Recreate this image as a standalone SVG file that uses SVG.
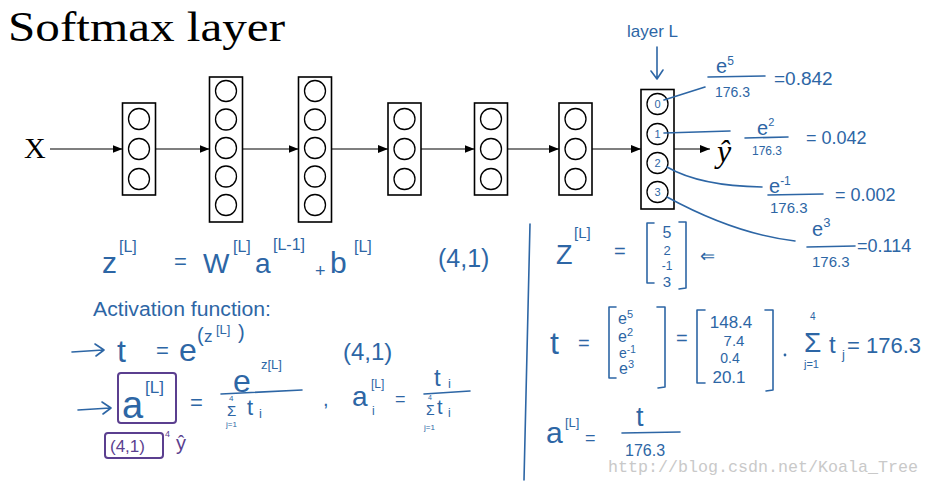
<svg xmlns="http://www.w3.org/2000/svg" width="931" height="486" viewBox="0 0 931 486">
<style>
.box{fill:none;stroke:#000;stroke-width:1.6}
.neu{fill:none;stroke:#000;stroke-width:1.3}
.arr{fill:none;stroke:#000;stroke-width:1.2;marker-end:url(#ah)}
.serif{font-family:"Liberation Serif",serif;fill:#000}
.ink{font-family:"Liberation Sans",sans-serif;fill:#2d66a5}
.inkl{fill:none;stroke:#2d66a5;stroke-width:1.6;stroke-linecap:round;stroke-linejoin:round}
.pur{font-family:"Liberation Sans",sans-serif;fill:#5b3f8f}
.purl{fill:none;stroke:#5b3f8f;stroke-width:2}
.wm{font-family:"Liberation Mono",monospace;fill:#c9c9c9}
</style>
<defs>
<marker id="ah" markerWidth="10" markerHeight="8" refX="10" refY="4" orient="auto" markerUnits="userSpaceOnUse"><path d="M0,0 L10,4 L0,8 z" fill="#000"/></marker>
</defs>
<rect width="931" height="486" fill="#fff"/>
<g id="title"><text class="serif" x="8" y="41" font-size="43" textLength="277" lengthAdjust="spacingAndGlyphs">Softmax layer</text></g>
<g id="input-x"><text class="serif" x="24" y="158" font-size="30">X</text></g>
<g id="layer1"><rect class="box" x="122.5" y="103" width="33" height="92"/><circle class="neu" cx="139" cy="119" r="10.5"/><circle class="neu" cx="139" cy="149" r="10.5"/><circle class="neu" cx="139" cy="179" r="10.5"/></g>
<g id="layer2"><rect class="box" x="209.5" y="77" width="33" height="145"/><circle class="neu" cx="226" cy="91" r="10.5"/><circle class="neu" cx="226" cy="119.5" r="10.5"/><circle class="neu" cx="226" cy="148" r="10.5"/><circle class="neu" cx="226" cy="176.5" r="10.5"/><circle class="neu" cx="226" cy="205" r="10.5"/></g>
<g id="layer3"><rect class="box" x="298.5" y="77" width="33" height="145"/><circle class="neu" cx="315" cy="91" r="10.5"/><circle class="neu" cx="315" cy="119.5" r="10.5"/><circle class="neu" cx="315" cy="148" r="10.5"/><circle class="neu" cx="315" cy="176.5" r="10.5"/><circle class="neu" cx="315" cy="205" r="10.5"/></g>
<g id="layer4"><rect class="box" x="388" y="103" width="33" height="92"/><circle class="neu" cx="404.5" cy="119" r="10.5"/><circle class="neu" cx="404.5" cy="149" r="10.5"/><circle class="neu" cx="404.5" cy="179" r="10.5"/></g>
<g id="layer5"><rect class="box" x="474.5" y="103" width="33" height="92"/><circle class="neu" cx="491" cy="119" r="10.5"/><circle class="neu" cx="491" cy="149" r="10.5"/><circle class="neu" cx="491" cy="179" r="10.5"/></g>
<g id="layer6"><rect class="box" x="559" y="103" width="33" height="92"/><circle class="neu" cx="575.5" cy="119" r="10.5"/><circle class="neu" cx="575.5" cy="149" r="10.5"/><circle class="neu" cx="575.5" cy="179" r="10.5"/></g>
<g id="layerL"><rect class="box" x="641" y="89.5" width="33" height="119.5"/>
<circle class="neu" cx="657.5" cy="104" r="10.5"/><circle class="neu" cx="657.5" cy="134" r="10.5"/><circle class="neu" cx="657.5" cy="163" r="10.5"/><circle class="neu" cx="657.5" cy="192" r="10.5"/>
<text class="ink" x="657.5" y="108" font-size="11" text-anchor="middle">0</text><text class="ink" x="657.5" y="138" font-size="11" text-anchor="middle">1</text><text class="ink" x="657.5" y="167" font-size="11" text-anchor="middle">2</text><text class="ink" x="657.5" y="196" font-size="11" text-anchor="middle">3</text></g>
<g id="output-yhat"><text class="serif" x="717" y="162" font-size="32" font-style="italic">ŷ</text></g>
<g id="connectors">
<line class="arr" x1="50" y1="149" x2="122.5" y2="149"/>
<line class="arr" x1="155.5" y1="149" x2="209.5" y2="149"/>
<line class="arr" x1="242.5" y1="149" x2="298.5" y2="149"/>
<line class="arr" x1="331.5" y1="149" x2="388" y2="149"/>
<line class="arr" x1="421" y1="149" x2="474.5" y2="149"/>
<line class="arr" x1="507.5" y1="149" x2="559" y2="149"/>
<line class="arr" x1="592" y1="149" x2="641" y2="149"/>
<line class="arr" x1="674" y1="149" x2="710" y2="149"/>
<path class="inkl" d="M657,47 L657,79 M651,71 L657,79 L663,70"/>
<path class="inkl" d="M664,100 L705,87"/>
<path class="inkl" d="M664,133 L730,131"/>
<path class="inkl" d="M667,167 Q700,186 762,187"/>
<path class="inkl" d="M667,197 Q735,234 795,241"/>
</g>
<g id="layerL-label"><text class="ink" x="627" y="37" font-size="17">layer L</text></g>
<g id="prob0"><text class="ink" x="716" y="73" font-size="20">e<tspan dy="-8" font-size="12">5</tspan></text><path class="inkl" d="M708,77 L765,76"/><text class="ink" x="715" y="97" font-size="14">176.3</text><text class="ink" x="774" y="85" font-size="19">=0.842</text></g>
<g id="prob1"><text class="ink" x="757" y="135" font-size="20">e<tspan dy="-9" font-size="11">2</tspan></text><path class="inkl" d="M745,138 L788,137"/><text class="ink" x="752" y="155" font-size="12">176.3</text><text class="ink" x="806" y="144" font-size="18">= 0.042</text></g>
<g id="prob2"><text class="ink" x="769" y="193" font-size="20">e<tspan dy="-8" font-size="12">-1</tspan></text><path class="inkl" d="M768,195 L823,194"/><text class="ink" x="770" y="213" font-size="15">176.3</text><text class="ink" x="835" y="201" font-size="18">= 0.002</text></g>
<g id="prob3"><text class="ink" x="812" y="236" font-size="20">e<tspan dy="-9" font-size="13">3</tspan></text><path class="inkl" d="M807,247 L855,246"/><text class="ink" x="812" y="267" font-size="15">176.3</text><text class="ink" x="857" y="252" font-size="18">=0.114</text></g>
<g id="eq-z">
<text class="ink" x="102" y="273" font-size="30">z</text><text class="ink" x="119" y="252" font-size="16">[L]</text>
<text class="ink" x="174" y="269" font-size="22">=</text>
<text class="ink" x="203" y="273" font-size="28">W</text><text class="ink" x="233" y="252" font-size="16">[L]</text>
<text class="ink" x="255" y="273" font-size="28">a</text><text class="ink" x="273" y="250" font-size="16">[L-1]</text>
<text class="ink" x="315" y="277" font-size="18">+</text>
<text class="ink" x="330" y="273" font-size="30">b</text><text class="ink" x="354" y="252" font-size="16">[L]</text>
<text class="ink" x="438" y="267" font-size="25">(4,1)</text>
</g>
<g id="activation-label"><text class="ink" x="93" y="316" font-size="20" textLength="178" lengthAdjust="spacingAndGlyphs">Activation function:</text></g>
<g id="eq-t">
<path class="inkl" d="M72,352 L103,350 M95,344 L104,350 L96,356"/>
<text class="ink" x="117" y="362" font-size="32">t</text>
<text class="ink" x="156" y="358" font-size="22">=</text>
<text class="ink" x="179" y="361" font-size="32">e</text>
<text class="ink" x="197" y="342" font-size="20">(</text><text class="ink" x="204" y="342" font-size="17">z</text><text class="ink" x="216" y="334" font-size="13">[L]</text><text class="ink" x="238" y="339" font-size="20">)</text>
<text class="ink" x="343" y="360" font-size="24">(4,1)</text>
</g>
<g id="eq-a">
<path class="inkl" d="M78,410 L110,408 M102,402 L111,408 L103,414"/>
<rect class="purl" x="118" y="373" width="58" height="50" rx="3"/>
<text class="ink" x="122" y="418" font-size="38">a</text><text class="ink" x="145" y="393" font-size="17">[L]</text>
<text class="ink" x="190" y="410" font-size="22">=</text>
<text class="ink" x="233" y="392" font-size="32">e</text><text class="ink" x="261" y="369" font-size="13">z[L]</text>
<path class="inkl" d="M221,394 L302,390"/>
<text class="ink" x="229" y="401" font-size="8">4</text><text class="ink" x="227" y="416" font-size="15">Σ</text><text class="ink" x="226" y="427" font-size="8">j=1</text>
<text class="ink" x="247" y="415" font-size="22">t</text><text class="ink" x="259" y="418" font-size="13">i</text>
<text class="ink" x="323" y="406" font-size="20">,</text>
<text class="ink" x="352" y="406" font-size="28">a</text><text class="ink" x="371" y="388" font-size="12">[L]</text><text class="ink" x="372" y="415" font-size="12">i</text>
<text class="ink" x="395" y="405" font-size="18">=</text>
<text class="ink" x="434" y="386" font-size="24">t</text><text class="ink" x="448" y="388" font-size="13">i</text>
<path class="inkl" d="M424,394 L470,391"/>
<text class="ink" x="428" y="400" font-size="7">4</text><text class="ink" x="426" y="415" font-size="14">Σ</text><text class="ink" x="424" y="430" font-size="8">j=1</text>
<text class="ink" x="437" y="414" font-size="20">t</text><text class="ink" x="448" y="417" font-size="12">i</text>
</g>
<g id="dims-note">
<rect class="purl" x="105" y="433" width="58" height="25" rx="3"/>
<text class="pur" x="110" y="452" font-size="17">(4,1)</text>
<text class="pur" x="165" y="437" font-size="9">4</text>
<text class="pur" x="176" y="450" font-size="20">ŷ</text>
</g>
<path class="inkl" d="M530,224 Q527,350 524,480"/>
<g id="eq-zvec">
<text class="ink" x="556" y="264" font-size="27">Z</text><text class="ink" x="574" y="238" font-size="15">[L]</text>
<text class="ink" x="614" y="258" font-size="20">=</text>
<path class="inkl" d="M654,223 L647,223 L647,283 L654,283 M679,222 L686,222 L686,288 L679,289"/>
<text class="ink" x="667" y="238" font-size="16" text-anchor="middle">5</text>
<text class="ink" x="667" y="255" font-size="13" text-anchor="middle">2</text>
<text class="ink" x="667" y="270" font-size="12" text-anchor="middle">-1</text>
<text class="ink" x="667" y="287" font-size="15" text-anchor="middle">3</text>
<text class="ink" x="700" y="262" font-size="18">⇐</text>
</g>
<g id="eq-tvec">
<text class="ink" x="550" y="354" font-size="32">t</text>
<text class="ink" x="578" y="350" font-size="20">=</text>
<path class="inkl" d="M616,307 L609,307 L609,378 L616,378 M657,307 L665,307 L665,387 L658,388"/>
<text class="ink" x="618" y="324" font-size="16">e<tspan dy="-6" font-size="11">5</tspan></text>
<text class="ink" x="618" y="342" font-size="16">e<tspan dy="-6" font-size="11">2</tspan></text>
<text class="ink" x="619" y="358" font-size="14">e<tspan dy="-5" font-size="10">-1</tspan></text>
<text class="ink" x="619" y="374" font-size="16">e<tspan dy="-6" font-size="11">3</tspan></text>
<text class="ink" x="676" y="345" font-size="20">=</text>
<path class="inkl" d="M705,310 L697,310 L697,383 L705,383 M765,310 L773,310 L773,390 L766,391"/>
<text class="ink" x="731" y="328" font-size="17" text-anchor="middle">148.4</text>
<text class="ink" x="734" y="346" font-size="15" text-anchor="middle">7.4</text>
<text class="ink" x="730" y="363" font-size="14" text-anchor="middle">0.4</text>
<text class="ink" x="729" y="383" font-size="17" text-anchor="middle">20.1</text>
<circle cx="785" cy="355" r="1.4" fill="#2d66a5"/>
<text class="ink" x="810" y="320" font-size="10">4</text>
<text class="ink" x="804" y="352" font-size="28">Σ</text>
<text class="ink" x="804" y="368" font-size="11">j=1</text>
<text class="ink" x="829" y="353" font-size="24">t</text><text class="ink" x="842" y="359" font-size="13">j</text>
<text class="ink" x="847" y="353" font-size="22">= 176.3</text>
</g>
<g id="eq-afinal">
<text class="ink" x="546" y="443" font-size="30">a</text><text class="ink" x="565" y="427" font-size="13">[L]</text>
<text class="ink" x="585" y="444" font-size="18">=</text>
<text class="ink" x="636" y="426" font-size="27">t</text>
<path class="inkl" d="M622,433 L680,432"/>
<text class="ink" x="625" y="456" font-size="16">176.3</text>
</g>
<text class="wm" x="608" y="472" font-size="17" textLength="310" lengthAdjust="spacingAndGlyphs">http://blog.csdn.net/Koala_Tree</text>
</svg>
